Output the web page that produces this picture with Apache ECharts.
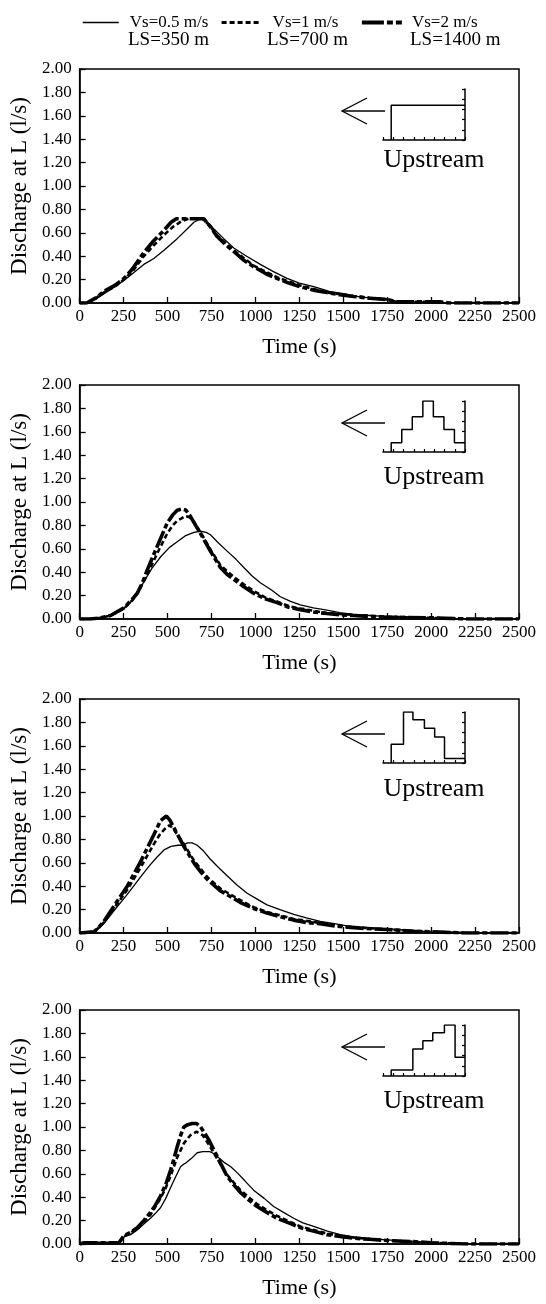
<!DOCTYPE html>
<html>
<head>
<meta charset="utf-8">
<script src="https://cdn.jsdelivr.net/npm/echarts@6/dist/echarts.min.js"></script>
<style>
html,body{margin:0;padding:0;background:#fff;}
#chart{width:546px;height:1304px;}
</style>
</head>
<body>
<div id="chart"></div>
<script>
// ---------- DATA ----------
const seriesNames = ['Vs=0.5 m/s', 'Vs=1 m/s', 'Vs=2 m/s'];
const lengthLabels = ['LS=350 m', 'LS=700 m', 'LS=1400 m'];
const xTicks = [0, 250, 500, 750, 1000, 1250, 1500, 1750, 2000, 2250, 2500];
const yTicks = [0, 0.2, 0.4, 0.6, 0.8, 1.0, 1.2, 1.4, 1.6, 1.8, 2.0];

// Panel 1 : uniform upstream inflow
const p1Vs05 = [[0,0],[50,0],[100,0.04],[150,0.09],[200,0.14],[250,0.19],[300,0.25],[365,0.33],[422,0.38],[480,0.45],[555,0.55],[610,0.63],[650,0.69],[690,0.72],[710,0.72],[760,0.64],[820,0.55],[877,0.47],[950,0.40],[1028,0.33],[1100,0.27],[1180,0.21],[1250,0.17],[1332,0.14],[1420,0.10],[1502,0.08],[1600,0.05],[1700,0.04],[1750,0.035],[1800,0.01],[2000,0.01],[2100,0],[2500,0]];
const p1Vs1 = [[0,0],[45,0],[100,0.05],[138,0.09],[200,0.14],[252,0.20],[300,0.27],[365,0.40],[420,0.49],[479,0.58],[530,0.65],[580,0.70],[620,0.72],[700,0.72],[740,0.66],[781,0.58],[877,0.45],[990,0.32],[1122,0.22],[1255,0.15],[1406,0.09],[1558,0.06],[1650,0.045],[1750,0.03],[1800,0.01],[2000,0.01],[2050,0],[2500,0]];
const p1Vs2 = [[0,0],[40,0],[100,0.05],[138,0.10],[200,0.15],[252,0.21],[300,0.29],[365,0.43],[420,0.53],[479,0.62],[520,0.69],[550,0.72],[706,0.72],[740,0.66],[781,0.57],[830,0.50],[877,0.44],[930,0.37],[990,0.31],[1060,0.25],[1122,0.21],[1190,0.17],[1255,0.14],[1330,0.11],[1406,0.09],[1480,0.07],[1558,0.056],[1650,0.04],[1750,0.03],[1800,0.01],[2050,0.01],[2100,0],[2500,0]];

// Panel 2 : triangular upstream inflow
const p2Vs05 = [[0,0],[60,0],[120,0.01],[176,0.03],[252,0.09],[300,0.16],[340,0.25],[366,0.32],[410,0.43],[460,0.53],[510,0.61],[555,0.66],[600,0.71],[650,0.74],[688,0.75],[720,0.74],[744,0.72],[790,0.65],[839,0.58],[890,0.51],[934,0.44],[980,0.37],[1028,0.31],[1090,0.25],[1142,0.19],[1200,0.15],[1256,0.12],[1330,0.095],[1407,0.075],[1480,0.055],[1558,0.04],[1650,0.03],[1750,0.02],[2000,0.01],[2200,0],[2500,0]];
const p2Vs1 = [[0,0],[62,0],[120,0.01],[176,0.03],[252,0.09],[300,0.16],[340,0.25],[385,0.38],[441,0.56],[498,0.73],[530,0.80],[555,0.84],[580,0.86],[602,0.88],[625,0.87],[650,0.83],[700,0.71],[750,0.58],[801,0.46],[877,0.36],[930,0.30],[990,0.24],[1060,0.18],[1123,0.15],[1190,0.11],[1256,0.09],[1407,0.05],[1558,0.035],[1750,0.02],[2000,0.01],[2200,0],[2500,0]];
const p2Vs2 = [[0,0],[62,0],[120,0.01],[176,0.03],[252,0.095],[300,0.17],[328,0.22],[360,0.32],[385,0.42],[441,0.62],[498,0.82],[530,0.89],[555,0.93],[583,0.94],[605,0.93],[631,0.875],[660,0.80],[688,0.73],[744,0.58],[801,0.44],[840,0.38],[877,0.34],[930,0.28],[990,0.22],[1060,0.17],[1123,0.14],[1190,0.10],[1256,0.08],[1330,0.06],[1407,0.047],[1480,0.035],[1558,0.03],[1650,0.02],[1750,0.015],[2000,0.01],[2200,0],[2500,0]];

// Panel 3 : early-peak upstream inflow
const p3Vs05 = [[0,0],[10,0.01],[85,0.01],[110,0.04],[138,0.08],[195,0.19],[271,0.33],[347,0.48],[400,0.58],[441,0.65],[480,0.71],[520,0.74],[560,0.75],[590,0.75],[612,0.77],[640,0.77],[669,0.75],[705,0.70],[744,0.63],[790,0.56],[839,0.49],[895,0.41],[953,0.34],[1010,0.29],[1066,0.24],[1140,0.20],[1218,0.16],[1290,0.13],[1369,0.10],[1450,0.08],[1521,0.06],[1600,0.05],[1750,0.035],[1900,0.02],[2000,0.01],[2200,0],[2500,0]];
const p3Vs1 = [[0,0],[10,0.01],[83,0.01],[110,0.05],[138,0.09],[195,0.21],[271,0.37],[347,0.56],[422,0.76],[460,0.85],[485,0.89],[510,0.92],[530,0.90],[560,0.83],[593,0.76],[650,0.62],[725,0.48],[801,0.38],[915,0.28],[990,0.22],[1066,0.18],[1218,0.12],[1369,0.085],[1521,0.055],[1750,0.03],[2000,0.01],[2200,0],[2500,0]];
const p3Vs2 = [[0,0],[10,0.01],[81,0.01],[110,0.05],[138,0.10],[195,0.23],[271,0.40],[347,0.61],[422,0.84],[460,0.96],[494,1.00],[515,0.96],[536,0.90],[565,0.82],[593,0.74],[650,0.60],[690,0.52],[725,0.46],[801,0.36],[860,0.31],[915,0.26],[990,0.21],[1066,0.17],[1140,0.14],[1218,0.11],[1290,0.09],[1369,0.08],[1450,0.06],[1521,0.05],[1600,0.04],[1750,0.03],[1900,0.015],[2000,0.01],[2200,0],[2500,0]];

// Panel 4 : late-peak upstream inflow
const p4Vs05 = [[0,0],[25,0.01],[223,0.01],[252,0.06],[290,0.08],[328,0.12],[365,0.17],[403,0.22],[430,0.26],[460,0.31],[490,0.39],[517,0.48],[545,0.57],[574,0.66],[590,0.68],[602,0.69],[635,0.73],[669,0.78],[700,0.79],[740,0.79],[754,0.78],[790,0.74],[820,0.70],[860,0.66],[896,0.61],[940,0.54],[990,0.46],[1050,0.39],[1104,0.32],[1160,0.27],[1218,0.22],[1270,0.18],[1332,0.15],[1410,0.11],[1483,0.08],[1560,0.06],[1650,0.045],[1750,0.035],[1900,0.02],[2000,0.01],[2200,0],[2500,0]];
const p4Vs1 = [[0,0],[25,0.01],[223,0.01],[252,0.065],[328,0.13],[403,0.25],[460,0.39],[490,0.48],[517,0.58],[555,0.74],[593,0.86],[630,0.93],[665,0.96],[700,0.93],[735,0.85],[782,0.73],[839,0.59],[915,0.46],[1010,0.34],[1123,0.24],[1256,0.15],[1407,0.09],[1558,0.055],[1750,0.03],[2000,0.01],[2200,0],[2500,0]];
const p4Vs2 = [[0,0],[25,0.01],[223,0.01],[252,0.07],[290,0.10],[328,0.14],[365,0.20],[403,0.27],[430,0.33],[460,0.41],[490,0.51],[517,0.63],[535,0.72],[555,0.83],[575,0.93],[593,1.00],[615,1.02],[640,1.03],[665,1.03],[688,1.00],[710,0.95],[735,0.89],[782,0.75],[839,0.58],[875,0.51],[915,0.44],[960,0.38],[1010,0.32],[1065,0.27],[1123,0.22],[1190,0.18],[1256,0.14],[1330,0.11],[1407,0.08],[1480,0.065],[1558,0.05],[1650,0.04],[1750,0.03],[1900,0.02],[2000,0.01],[2200,0],[2500,0]];

// Inset upstream hydrographs: step boundaries and step heights (relative)
const inset1Edges = [1, 10];
const inset1Heights = [0.68];
const inset2Edges = [1, 2.29, 3.57, 4.86, 6.14, 7.43, 8.71, 10];
const inset2Heights = [0.18, 0.44, 0.69, 1.0, 0.69, 0.44, 0.18];
const inset3Edges = [1, 2.5, 3.65, 5.05, 6.3, 7.5, 10];
const inset3Heights = [0.37, 1.0, 0.85, 0.68, 0.51, 0.09];
const inset4Edges = [1, 3.64, 4.86, 6.07, 7.49, 8.79, 10];
const inset4Heights = [0.12, 0.53, 0.69, 0.85, 1.0, 0.37];

// ---------- BUILD ----------
const panels = [
  {d: [p1Vs05, p1Vs1, p1Vs2], edges: inset1Edges, heights: inset1Heights},
  {d: [p2Vs05, p2Vs1, p2Vs2], edges: inset2Edges, heights: inset2Heights},
  {d: [p3Vs05, p3Vs1, p3Vs2], edges: inset3Edges, heights: inset3Heights},
  {d: [p4Vs05, p4Vs1, p4Vs2], edges: inset4Edges, heights: inset4Heights}
];
const gridTops = [69, 385, 699, 1010];
const gridH = 234;
const insetBase = [140, 452, 763, 1076];
const upstreamY = [160, 477, 789, 1101];
const FONT = '"Liberation Serif", "Times New Roman", serif';

function stepPoints(edges, heights) {
  const pts = [[edges[0], 0]];
  for (let i = 0; i < heights.length; i++) pts.push([edges[i], heights[i]]);
  pts.push([edges[edges.length - 1], heights[heights.length - 1]]);
  return pts;
}

const styles = [
  {width: 1.3, type: 'solid'},
  {width: 2.6, type: [5, 3]},
  {width: 3.6, type: [18, 3, 5, 3]}
];
const legendStyles = [
  {width: 1.5, type: 'solid'},
  {width: 3.2, type: [5, 3]},
  {width: 3.8, type: [22, 3, 6, 3]}
];

const grid = [], xAxis = [], yAxis = [], series = [], graphic = [];
panels.forEach((p, i) => {
  grid.push({left: 79, right: 27, top: gridTops[i], height: gridH, show: true,
    borderColor: '#000', borderWidth: 1.5, containLabel: false});
  xAxis.push({type: 'value', gridIndex: 2 * i, min: xTicks[0], max: xTicks[xTicks.length - 1], interval: 250,
    axisLine: {onZero: false, lineStyle: {color: '#000', width: 1.5}},
    axisTick: {inside: true, length: 6, lineStyle: {color: '#000', width: 1.3}},
    splitLine: {show: false},
    axisLabel: {color: '#000', fontFamily: FONT, fontSize: 17, margin: 5, interval: 0, hideOverlap: false,
      showMaxLabel: true, showMinLabel: true, formatter: v => String(v)},
    name: 'Time (s)', nameLocation: 'middle', nameGap: 33,
    nameTextStyle: {color: '#000', fontFamily: FONT, fontSize: 22}
  });
  yAxis.push({type: 'value', gridIndex: 2 * i, min: yTicks[0], max: yTicks[yTicks.length - 1], interval: 0.2,
    axisLine: {show: true, onZero: false, lineStyle: {color: '#000', width: 1.5}},
    axisTick: {show: true, inside: true, length: 6, lineStyle: {color: '#000', width: 1.3}},
    splitLine: {show: false},
    axisLabel: {color: '#000', fontFamily: FONT, fontSize: 17, margin: 8, formatter: v => v.toFixed(2)},
    name: 'Discharge at L (l/s)', nameLocation: 'middle', nameGap: 44, nameRotate: 90,
    nameTextStyle: {color: '#000', fontFamily: FONT, fontSize: 23}
  });
  // inset grid
  grid.push({left: 383, right: 81, top: insetBase[i] - 51, height: 51, show: false});
  xAxis.push({type: 'value', gridIndex: 2 * i + 1, min: 0, max: 10, interval: 1.25,
    axisLine: {onZero: false, lineStyle: {color: '#000', width: 1.5}},
    axisTick: {inside: true, length: 3, lineStyle: {color: '#000', width: 1.2}},
    axisLabel: {show: false}, splitLine: {show: false}});
  yAxis.push({type: 'value', gridIndex: 2 * i + 1, position: 'right', min: 0, max: 1, interval: 0.2,
    axisLine: {show: true, onZero: false, lineStyle: {color: '#000', width: 1.5}},
    axisTick: {show: true, inside: true, length: 3, lineStyle: {color: '#000', width: 1.2}},
    axisLabel: {show: false}, splitLine: {show: false}});

  // main curves: draw thick first, thin on top
  [2, 1, 0].forEach(k => {
    series.push({type: 'line', name: seriesNames[k], xAxisIndex: 2 * i, yAxisIndex: 2 * i,
      data: p.d[k], symbol: 'none', showSymbol: false, smooth: false,
      lineStyle: {color: '#000', width: styles[k].width, type: styles[k].type},
      itemStyle: {color: '#000'}, z: 3 + (2 - k)});
  });
  series.push({type: 'line', name: 'inflow' + (i + 1), xAxisIndex: 2 * i + 1, yAxisIndex: 2 * i + 1,
    data: stepPoints(p.edges, p.heights), step: 'end', symbol: 'none', showSymbol: false,
    lineStyle: {color: '#000', width: 1.5}, silent: true});

  // arrow pointing upstream
  const ay = insetBase[i] - 29;
  graphic.push({type: 'line', shape: {x1: 342, y1: ay, x2: 385, y2: ay}, style: {stroke: '#000', lineWidth: 1.3}});
  graphic.push({type: 'polyline', shape: {points: [[367, ay - 13], [342, ay], [367, ay + 13]]}, style: {stroke: '#000', lineWidth: 1.3, fill: null}});
  graphic.push({type: 'text', x: 434, y: upstreamY[i], style: {text: 'Upstream', font: '26px ' + FONT, fill: '#000', align: 'center', verticalAlign: 'middle'}});
});

// second legend row
const lsX = [128, 267, 410];
lengthLabels.forEach((t, k) => {
  graphic.push({type: 'text', x: lsX[k], y: 40, style: {text: t, font: '19px ' + FONT, fill: '#000', align: 'left', verticalAlign: 'middle'}});
});

const legendLeft = [77, 215, 355];
const legendIconW = [36, 38, 40];
const legendPad = [6, 8, 5];
const legend = seriesNames.map((n, k) => ({
  data: [n], left: legendLeft[k], top: 9, itemWidth: legendIconW[k], itemHeight: 14, selectedMode: false,
  itemStyle: {opacity: 0, color: 'rgba(0,0,0,0)', borderWidth: 0},
  lineStyle: {color: '#000', width: legendStyles[k].width, type: legendStyles[k].type},
  textStyle: {color: '#000', fontFamily: FONT, fontSize: 17, padding: [0, 0, 0, legendPad[k]]}
}));

const chart = echarts.init(document.getElementById('chart'), null, {renderer: 'canvas'});
chart.setOption({animation: false, backgroundColor: '#fff', legend, grid, xAxis, yAxis, series, graphic});
</script>
</body>
</html>
